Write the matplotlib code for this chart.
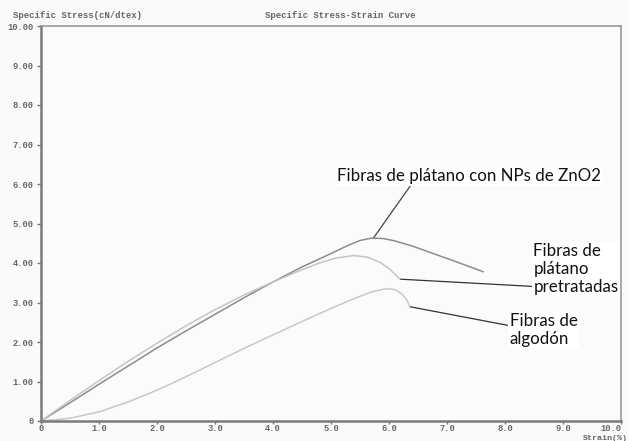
import matplotlib
matplotlib.use("Agg")
import matplotlib.pyplot as plt

# curvas esfuerzo-deformacion (strain %, stress cN/dtex)
strain_zno2 = [0, 0.5, 1.0, 1.5, 2.0, 2.5, 3.0, 3.5, 4.0, 4.5, 5.0, 5.3, 5.5, 5.7, 5.9, 6.1, 6.4, 6.8, 7.2, 7.62]
stress_zno2 = [0, 0.46, 0.93, 1.39, 1.85, 2.28, 2.70, 3.12, 3.52, 3.90, 4.24, 4.45, 4.57, 4.63, 4.62, 4.56, 4.43, 4.22, 4.01, 3.78]

strain_pret = [0, 0.5, 1.0, 1.5, 2.0, 2.5, 3.0, 3.5, 4.0, 4.5, 4.8, 5.1, 5.4, 5.65, 5.85, 6.0, 6.1, 6.18]
stress_pret = [0, 0.52, 1.02, 1.51, 1.97, 2.41, 2.82, 3.19, 3.52, 3.83, 4.00, 4.13, 4.19, 4.14, 4.01, 3.86, 3.72, 3.60]

strain_alg = [0, 0.5, 1.0, 1.5, 2.0, 2.5, 3.0, 3.5, 4.0, 4.5, 5.0, 5.4, 5.7, 5.95, 6.1, 6.22, 6.3, 6.36]
stress_alg = [0, 0.07, 0.23, 0.48, 0.78, 1.12, 1.48, 1.84, 2.18, 2.52, 2.85, 3.10, 3.27, 3.35, 3.33, 3.22, 3.08, 2.90]

x_ticks = [0, 1, 2, 3, 4, 5, 6, 7, 8, 9, 10]
x_labels = ["0", "1.0", "2.0", "3.0", "4.0", "5.0", "6.0", "7.0", "8.0", "9.0", "10.0"]
y_ticks = [0, 1, 2, 3, 4, 5, 6, 7, 8, 9, 10]
y_labels = ["0", "1.00", "2.00", "3.00", "4.00", "5.00", "6.00", "7.00", "8.00", "9.00", "10.00"]

mono = "Liberation Mono"
lab_font = "Lato"

fig = plt.figure(figsize=(6.29, 4.41), dpi=100)
fig.patch.set_facecolor("#fafafa")
ax = fig.add_axes([41/629, 1 - 421/441, 580/629, 395/441])
ax.set_facecolor("#fbfbfb")

ax.plot(strain_zno2, stress_zno2, color="#8c8c8c", lw=1.1)
ax.plot(strain_pret, stress_pret, color="#c4c4c4", lw=1.1)
ax.plot(strain_alg, stress_alg, color="#c8c8c8", lw=1.1)

ax.set_xlim(0, 10)
ax.set_ylim(0, 10)
ax.set_xticks(x_ticks)
ax.set_xticklabels(x_labels)
ax.set_yticks(y_ticks)
ax.set_yticklabels(y_labels)
ax.tick_params(width=1, color="#777777", labelsize=6.3, labelcolor="#666666")
ax.tick_params(axis="x", length=2, pad=0)
ax.tick_params(axis="y", length=3, pad=2.5)
for t in ax.get_xticklabels() + ax.get_yticklabels():
    t.set_fontfamily(mono)
    t.set_fontweight("bold")
# el ultimo rotulo de x pegado al borde derecho
ax.get_xticklabels()[-1].set_horizontalalignment("right")
ax.get_xticklabels()[-1].set_x(10.12)

for s in ["left", "bottom"]:
    ax.spines[s].set_color("#7a7a7a")
    ax.spines[s].set_linewidth(1.8)
for s in ["top", "right"]:
    ax.spines[s].set_color("#9a9a9a")
    ax.spines[s].set_linewidth(1.2)

fig.text(13/629, 1 - 16/441, "Specific Stress(cN/dtex)", fontfamily=mono, fontsize=6.5,
         fontweight="bold", color="#666666", va="center", ha="left")
fig.text(340/629, 1 - 16/441, "Specific Stress-Strain Curve", fontfamily=mono, fontsize=6.5,
         fontweight="bold", color="#666666", va="center", ha="center")
fig.text(628/629, 1 - 438.5/441, "Strain(%)", fontfamily=mono, fontsize=6.0,
         fontweight="bold", color="#666666", va="center", ha="right")

# etiquetas con lineas de referencia
box = dict(facecolor="white", edgecolor="none", pad=1)
ax.annotate("Fibras de plátano con NPs de ZnO2", xy=(5.74, 4.65), xytext=(5.11, 6.19),
            fontfamily=lab_font, fontsize=12.2, color="#111111", va="center", ha="left", bbox=box,
            arrowprops=dict(arrowstyle="-", color="#444444", lw=0.9, shrinkA=0, shrinkB=0,
                            relpos=(0.28, 0.0)))
ax.annotate("Fibras de\nplátano\npretratadas", xy=(6.2, 3.59), xytext=(8.49, 3.84),
            fontfamily=lab_font, fontsize=12.2, color="#111111", va="center", ha="left",
            linespacing=1.15, bbox=box,
            arrowprops=dict(arrowstyle="-", color="#333333", lw=0.9, shrinkA=0, shrinkB=0,
                            relpos=(0.0, 0.17)))
ax.annotate("Fibras de\nalgodón", xy=(6.37, 2.89), xytext=(8.08, 2.31),
            fontfamily=lab_font, fontsize=12.2, color="#111111", va="center", ha="left",
            linespacing=1.15, bbox=box,
            arrowprops=dict(arrowstyle="-", color="#333333", lw=0.9, shrinkA=0, shrinkB=0,
                            relpos=(0.0, 0.62)))

fig.savefig("out.png", dpi=100, facecolor=fig.get_facecolor())
